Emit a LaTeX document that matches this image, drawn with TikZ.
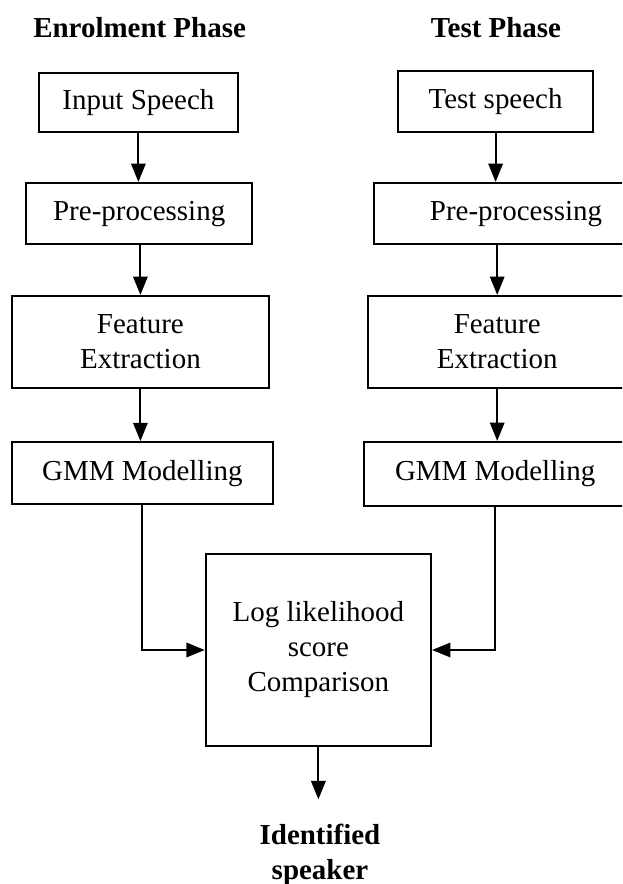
\documentclass[tikz,border=0pt]{standalone}
\usepackage{fontspec}
\setmainfont{Liberation Serif}
\usetikzlibrary{arrows.meta}

\begin{document}
\begin{tikzpicture}[line width=1.5pt]

		\tikzstyle{block}=[rectangle, draw, text=black, align=center, inner sep=0pt, font=\fontsize{20.6}{24.9}\selectfont]
		\tikzstyle{phase}=[text=black, align=center, font=\fontsize{20.6}{24.9}\selectfont\bfseries]
		\tikzstyle{link}=[-{Triangle[length=0.46cm, width=0.36cm]}, line width=1.5pt]

		\useasboundingbox (0,0) rectangle (15.55,-22.1);
		\clip (0,0) rectangle (15.55,-22.1);

		% Phase titles
		\node[phase, anchor=base] (tenrol) at (3.49,-0.925) {Enrolment Phase};
		\node[phase, anchor=base] (ttest)  at (12.4,-0.925) {Test Phase};

		% Enrolment column
		\node[block, minimum width=4.98cm, minimum height=1.48cm] (in1)  at (3.46,-2.56)  {Input Speech};
		\node[block, minimum width=5.65cm, minimum height=1.53cm] (pre1) at (3.48,-5.34)  {Pre-processing};
		\node[block, minimum width=6.43cm, minimum height=2.30cm] (fe1)  at (3.51,-8.55)  {Feature\\Extraction};
		\node[block, minimum width=6.53cm, minimum height=1.55cm] (gmm1) at (3.56,-11.83) {GMM Modelling};

		% Test column
		\node[block, minimum width=4.88cm, minimum height=1.53cm] (in2)  at (12.39,-2.54) {Test speech};
		\node[block, minimum width=7.10cm, minimum height=1.53cm] (pre2) at (12.90,-5.34) {Pre-processing};
		\node[block, minimum width=6.45cm, minimum height=2.30cm] (fe2)  at (12.43,-8.55) {Feature\\Extraction};
		\node[block, minimum width=6.55cm, minimum height=1.60cm] (gmm2) at (12.38,-11.85) {GMM Modelling};

		\node[block, minimum width=5.63cm, minimum height=4.80cm] (log) at (7.96,-16.25) {Log likelihood\\score\\Comparison};
		\node[phase, inner sep=0.58cm] (spk) at (8.0,-21.36) {Identified\\speaker};

		\draw[link] (in1.south) -- (in1.south |- pre1.north);
		\draw[link] (fe1.north |- pre1.south) -- (fe1.north);
		\draw[link] (fe1.south) -- (fe1.south |- gmm1.north);

		\draw[link] (in2.south) -- (in2.south |- pre2.north);
		\draw[link] (fe2.north |- pre2.south) -- (fe2.north);
		\draw[link] (fe2.south) -- (fe2.south |- gmm2.north);

		\draw[link] (gmm1.south) |- (log.west);
		\draw[link] (gmm2.south) |- (log.east);
		\draw[link] (log.south) -- (log.south |- spk.north);

\end{tikzpicture}
\end{document}
